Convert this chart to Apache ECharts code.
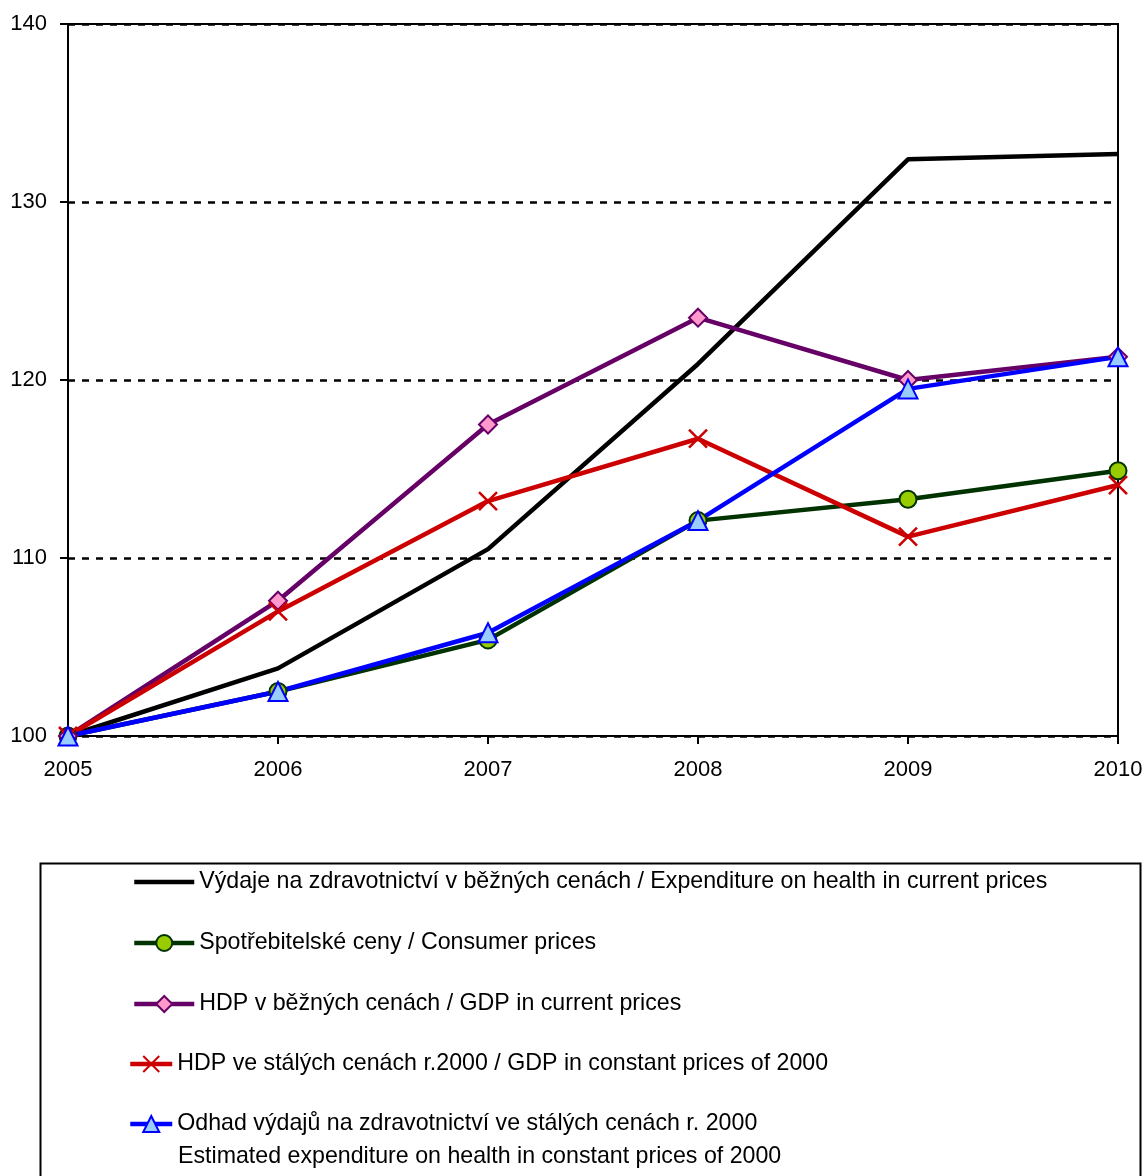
<!DOCTYPE html>
<html>
<head>
<meta charset="utf-8">
<script src="https://cdn.jsdelivr.net/npm/echarts@6/dist/echarts.min.js"></script>
<style>
html,body{margin:0;padding:0;background:#fff;}
#c{width:1148px;height:1176px;}
</style>
</head>
<body>
<div id="c"></div>
<script>
var years = ['2005', '2006', '2007', '2008', '2009', '2010'];
var healthCurrent = [100, 103.8, 110.5, 120.9, 132.4, 132.7];
var consumerPrices = [100, 102.5, 105.4, 112.1, 113.3, 114.9];
var gdpCurrent = [100, 107.6, 117.5, 123.5, 120.0, 121.3];
var gdpConstant = [100, 107.0, 113.2, 116.7, 111.2, 114.1];
var healthConstant = [100, 102.5, 105.8, 112.1, 119.5, 121.3];
var seriesNames = [
  'Výdaje na zdravotnictví v běžných cenách / Expenditure on health in current prices',
  'Spotřebitelské ceny / Consumer prices',
  'HDP v běžných cenách / GDP in current prices',
  'HDP ve stálých cenách r.2000 / GDP in constant prices of 2000',
  'Odhad výdajů na zdravotnictví ve stálých cenách r. 2000'
];
var lastNameSecondLine = 'Estimated expenditure on health in constant prices of 2000';

var FONT = '"Liberation Sans", Arial, sans-serif';
var chart = echarts.init(document.getElementById('c'));
var xPath = 'path://M0,0L10,10M10,0L0,10';
var legendText = { color: '#000', fontSize: 23.2, fontFamily: FONT, lineHeight: 26 };

chart.setOption({
  animation: false,
  backgroundColor: '#fff',
  grid: {
    left: 68, right: 30, top: 24, bottom: 440,
    outerBoundsMode: 'none',
    containLabel: false,
    show: true, borderColor: '#000', borderWidth: 2, backgroundColor: 'transparent'
  },
  xAxis: {
    type: 'category',
    data: years,
    boundaryGap: false,
    axisLine: { lineStyle: { color: '#000', width: 2 } },
    axisTick: { show: true, inside: false, length: 8, lineStyle: { color: '#000', width: 2 } },
    axisLabel: { color: '#000', fontSize: 22, fontFamily: FONT, margin: 23 },
    splitLine: { show: false }
  },
  yAxis: {
    type: 'value',
    min: 100, max: 140, interval: 10,
    axisLine: { show: true, lineStyle: { color: '#000', width: 2 } },
    axisTick: { show: true, inside: false, length: 8, lineStyle: { color: '#000', width: 2 } },
    axisLabel: { color: '#000', fontSize: 22, fontFamily: FONT, margin: 21 },
    splitLine: { show: true, lineStyle: { color: '#000', width: 2.5, type: [7, 7] } }
  },
  legend: [
    {
      orient: 'vertical',
      left: 127,
      top: 864,
      itemWidth: 60,
      itemHeight: 20,
      itemGap: 35,
      lineStyle: { width: 4.5 },
      textStyle: legendText,
      data: [
        { name: seriesNames[0], itemStyle: { opacity: 0 } },
        seriesNames[1],
        seriesNames[2]
      ]
    },
    {
      orient: 'vertical',
      left: 123,
      top: 1046,
      itemWidth: 42,
      itemHeight: 20,
      itemGap: 34,
      lineStyle: { width: 4.5 },
      textStyle: legendText,
      data: [seriesNames[3], seriesNames[4]]
    }
  ],
  graphic: [
    {
      type: 'rect', left: 38, top: 861, z: -1,
      shape: { width: 1100, height: 340 },
      style: { fill: 'none', stroke: '#000', lineWidth: 2 }
    },
    {
      type: 'text', left: 178, top: 1145,
      style: { text: lastNameSecondLine, fill: '#000', font: '23.2px ' + FONT }
    }
  ],
  series: [
    {
      name: seriesNames[0], type: 'line', data: healthCurrent,
      symbol: 'none', lineStyle: { color: '#000', width: 4.5 }, itemStyle: { color: '#000' }
    },
    {
      name: seriesNames[1], type: 'line', data: consumerPrices,
      symbol: 'circle', symbolSize: 17,
      lineStyle: { color: '#003300', width: 4.5 },
      itemStyle: { color: '#99cc00', borderColor: '#003300', borderWidth: 2 }
    },
    {
      name: seriesNames[2], type: 'line', data: gdpCurrent,
      symbol: 'diamond', symbolSize: 18,
      lineStyle: { color: '#660066', width: 4.5 },
      itemStyle: { color: '#ff99cc', borderColor: '#660066', borderWidth: 2 }
    },
    {
      name: seriesNames[3], type: 'line', data: gdpConstant,
      symbol: xPath, symbolSize: 18,
      lineStyle: { color: '#cc0000', width: 4.5 },
      itemStyle: { color: '#cc0000', borderColor: '#cc0000', borderWidth: 2.5 }
    },
    {
      name: seriesNames[4], type: 'line', data: healthConstant,
      symbol: 'triangle', symbolSize: 19,
      lineStyle: { color: '#0000ff', width: 4.5 },
      itemStyle: { color: '#99ccff', borderColor: '#0000ff', borderWidth: 2 }
    }
  ]
});
</script>
</body>
</html>
